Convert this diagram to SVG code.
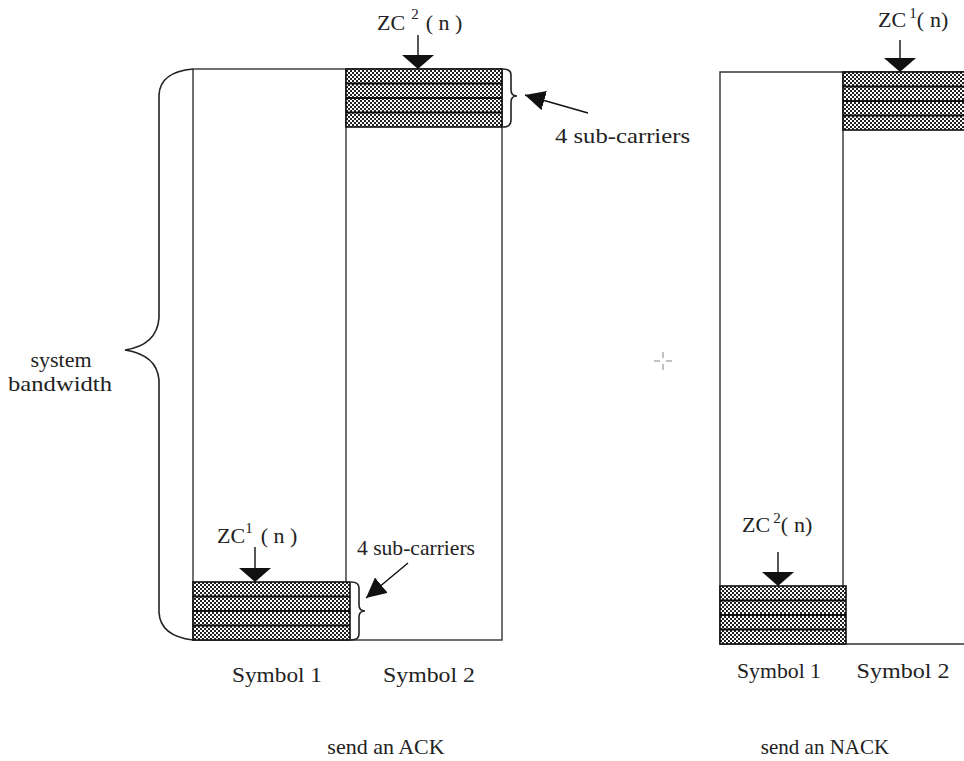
<svg xmlns="http://www.w3.org/2000/svg" width="964" height="761" viewBox="0 0 964 761">
<style>
.ln{fill:none;stroke:#333;stroke-width:1.4}
.br{fill:none;stroke:#222;stroke-width:1.6}
.blk{fill:url(#chk);stroke:#111;stroke-width:1.6}
.sep{stroke:#111;stroke-width:2}
.ar{fill:none;stroke:#111;stroke-width:1.4}
.t{font-family:"Liberation Serif","Times New Roman",serif;font-size:22px;fill:#222}
.s{font-size:21px}
.sup{font-size:15px}
.cross{stroke:#999;stroke-width:1.2}
</style>
<defs>
<pattern id="chk" width="4" height="4" patternUnits="userSpaceOnUse">
<rect width="4" height="4" fill="#fff"/>
<rect width="2" height="2" fill="#222"/>
<rect x="2" y="2" width="2" height="2" fill="#222"/>
</pattern>
<marker id="dn" viewBox="0 0 14 32" markerWidth="14" markerHeight="32" refX="14" refY="16" markerUnits="userSpaceOnUse" orient="auto">
<path d="M0,0 L14,16 L0,32 Z" fill="#111"/>
</marker>
<marker id="sl" viewBox="0 0 20 20" markerWidth="20" markerHeight="20" refX="20" refY="10" markerUnits="userSpaceOnUse" orient="auto">
<path d="M0,0 L20,10 L0,20 Z" fill="#111"/>
</marker>
</defs>

<g id="ack">
<g id="ack-frame">
<rect class="ln" x="193" y="69" width="309" height="571"/>
<line class="ln" x1="346" y1="69" x2="346" y2="582"/>
</g>
<g id="ack-top-block">
<rect class="blk" x="346" y="69" width="156" height="58"/>
<line class="sep" x1="346" y1="83.5" x2="502" y2="83.5"/>
<line class="sep" x1="346" y1="98" x2="502" y2="98"/>
<line class="sep" x1="346" y1="112.5" x2="502" y2="112.5"/>
</g>
<g id="ack-bottom-block">
<rect class="blk" x="193" y="582" width="157" height="58"/>
<line class="sep" x1="193" y1="596.5" x2="350" y2="596.5"/>
<line class="sep" x1="193" y1="611" x2="350" y2="611"/>
<line class="sep" x1="193" y1="625.5" x2="350" y2="625.5"/>
</g>
<g id="ack-brace-big">
<path class="br" d="M193,69 Q160,72 159,95 L159,318 Q157,345 125,350 Q157,355 159,380 L159,612 Q160,636 193,640"/>
<text class="t" x="61" y="367" text-anchor="middle">system</text>
<text class="t" x="60" y="391" text-anchor="middle" textLength="104" lengthAdjust="spacingAndGlyphs">bandwidth</text>
</g>
<g id="ack-brace-top">
<path class="br" d="M503,69 Q511,69 511,75 L511,90 Q511,96 517,96 Q511,96 511,102 L511,120 Q511,127 503,127"/>
<text class="t" x="555" y="143" textLength="135" lengthAdjust="spacingAndGlyphs">4 sub-carriers</text>
</g>
<g id="ack-brace-bottom">
<path class="br" d="M351,582 Q359,582 359,588 L359,605 Q359,611 365,611 Q359,611 359,617 L359,634 Q359,640 351,640"/>
<text class="t" x="357" y="555" textLength="118" lengthAdjust="spacingAndGlyphs">4 sub-carriers</text>
</g>
<g id="ack-zc2">
<text class="t" x="377" y="30">ZC<tspan class="sup" dx="6" dy="-11">2</tspan><tspan dx="7" dy="11">( n )</tspan></text>
</g>
<g id="ack-zc1">
<text class="t" x="217" y="543">ZC<tspan class="sup" dy="-10">1</tspan><tspan dx="8" dy="10">( n )</tspan></text>
</g>
<text class="t" x="277" y="682" text-anchor="middle" textLength="90" lengthAdjust="spacingAndGlyphs">Symbol 1</text>
<text class="t" x="429" y="682" text-anchor="middle" textLength="92" lengthAdjust="spacingAndGlyphs">Symbol 2</text>
<text class="t" x="386" y="754" text-anchor="middle">send an ACK</text>
</g>

<g id="nack">
<g id="nack-frame">
<path class="ln" d="M964,72 L720,72 L720,644 L964,644"/>
<line class="ln" x1="843" y1="72" x2="843" y2="644"/>
</g>
<g id="nack-top-block">
<rect class="blk" x="843" y="72" width="125" height="58"/>
<line class="sep" x1="843" y1="86.5" x2="964" y2="86.5"/>
<line class="sep" x1="843" y1="101" x2="964" y2="101"/>
<line class="sep" x1="843" y1="115.5" x2="964" y2="115.5"/>
</g>
<g id="nack-bottom-block">
<rect class="blk" x="720" y="586" width="126" height="58"/>
<line class="sep" x1="720" y1="600.5" x2="846" y2="600.5"/>
<line class="sep" x1="720" y1="615" x2="846" y2="615"/>
<line class="sep" x1="720" y1="629.5" x2="846" y2="629.5"/>
</g>
<g id="nack-zc1">
<text class="t" x="878" y="27">ZC<tspan class="sup" dx="3" dy="-9">1</tspan><tspan dy="9">(</tspan><tspan dx="6">n)</tspan></text>
</g>
<g id="nack-zc2">
<text class="t" x="742" y="532">ZC<tspan class="sup" dx="3" dy="-9">2</tspan><tspan dy="9">(</tspan><tspan dx="6">n)</tspan></text>
</g>
<text class="t s" x="779" y="678" text-anchor="middle" textLength="84" lengthAdjust="spacingAndGlyphs">Symbol 1</text>
<text class="t s" x="903" y="678" text-anchor="middle" textLength="93" lengthAdjust="spacingAndGlyphs">Symbol 2</text>
<text class="t s" x="825" y="754" text-anchor="middle">send an NACK</text>
</g>

<g id="connectors">
<line class="ar" x1="418" y1="35" x2="418" y2="69" marker-end="url(#dn)"/>
<line class="ar" x1="255" y1="547" x2="255" y2="582" marker-end="url(#dn)"/>
<line class="ar" x1="900" y1="40" x2="900" y2="72" marker-end="url(#dn)"/>
<line class="ar" x1="778" y1="552" x2="778" y2="586" marker-end="url(#dn)"/>
<line class="ar" x1="588" y1="113" x2="525" y2="95" marker-end="url(#sl)"/>
<line class="ar" x1="408" y1="563" x2="366" y2="598" marker-end="url(#sl)"/>
</g>

<g id="crosshair">
<line class="cross" x1="654" y1="361" x2="660" y2="361"/>
<line class="cross" x1="666" y1="361" x2="672" y2="361"/>
<line class="cross" x1="663" y1="352" x2="663" y2="358"/>
<line class="cross" x1="663" y1="364" x2="663" y2="370"/>
</g>
</svg>
